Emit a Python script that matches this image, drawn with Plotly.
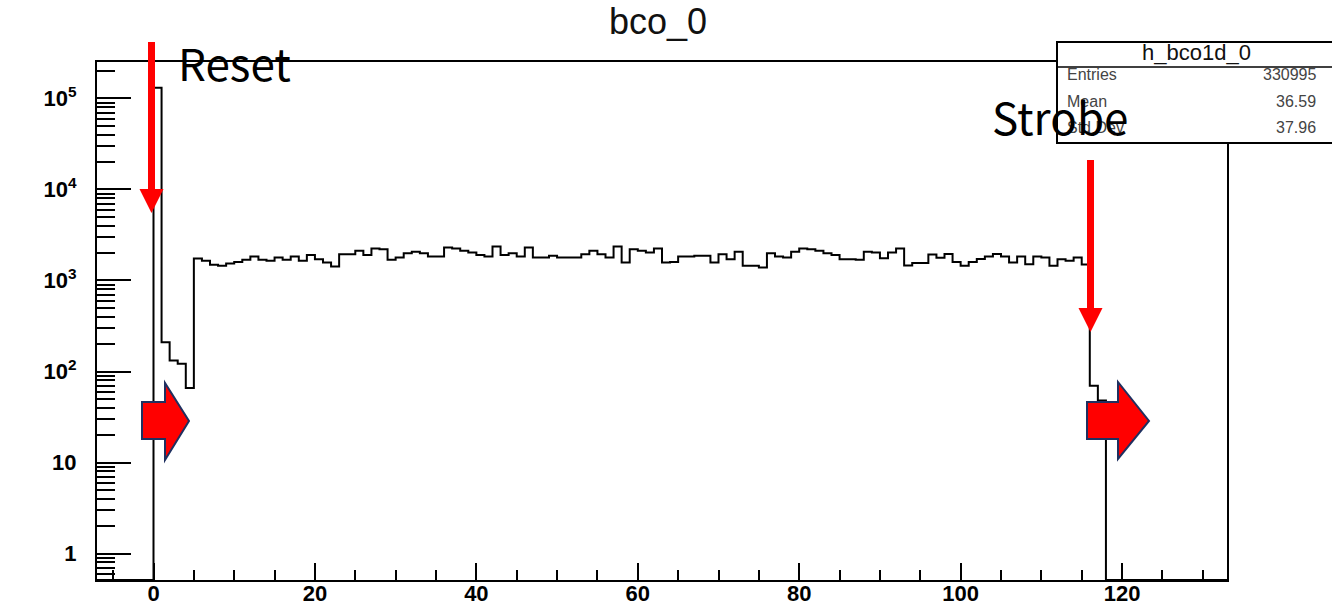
import plotly.graph_objects as go

# ---------------- data ----------------
hist_xmin = -7
hist_xmax = 133
first_filled_bin = 0
# bin contents for bins [0,1), [1,2), ... [117,118)
counts = [
    131000, 210, 132, 122, 66,
    1745, 1644, 1486, 1449, 1540, 1600, 1685, 1835, 1685, 1644,
    1789, 1685, 1835, 1644, 1900, 1715, 1577, 1425, 1947, 1947,
    2118, 1900, 2250, 2210, 1685, 1789, 1995, 2065, 1995, 1835,
    1835, 2305, 2250, 2118, 2031, 1900, 1835, 2360, 1900, 1995,
    1835, 2305, 1789, 1789, 1866, 1789, 1789, 1789, 1947, 2118,
    1947, 1789, 2360, 1577, 2210, 2118, 2031, 2250, 1577, 1600,
    1835, 1835, 1866, 1866, 1577, 1947, 1715, 2065, 1449, 1449,
    1390, 1995, 1835, 1789, 2065, 2250, 2210, 2118, 1995, 1900,
    1715, 1715, 1685, 2065, 2031, 1750, 2031, 2250, 1462, 1560,
    1560, 1930, 1780, 1950, 1600, 1455, 1600, 1720, 1830, 1955,
    1835, 1577, 1835, 1512, 1835, 1789, 1449, 1715, 1644, 1789,
    1500, 70, 48,
]
x_tick_vals = [0, 20, 40, 60, 80, 100, 120]
x_tick_text = ["0", "20", "40", "60", "80", "100", "120"]
y_tick_vals = [1, 10, 100, 1000, 10000, 100000]
y_tick_text = ["1", "10", "10<sup>2</sup>", "10<sup>3</sup>", "10<sup>4</sup>", "10<sup>5</sup>"]
y_log_range = [-0.29, 5.4]

title_text = "bco_0"
stat_name = "h_bco1d_0"
stat_labels = ["Entries", "Mean", "Std Dev"]
stat_values = ["330995", "36.59", "37.96"]
note_reset = "Reset"
note_strobe = "Strobe"

# ---------------- build step outline ----------------
floor_val = 10 ** y_log_range[0]
n_bins = hist_xmax - hist_xmin
contents = [0] * n_bins
for i, c in enumerate(counts):
    contents[first_filled_bin - hist_xmin + i] = c
edges = [hist_xmin + i for i in range(n_bins + 1)]
ys = [c if c > 0 else floor_val for c in contents]
ys = ys + [ys[-1]]

W, H = 1332, 610
ML, MR, MT, MB = 97, 105, 62, 30
PW, PH = W - ML - MR, H - MT - MB


def px(xp):
    return (xp - ML) / PW


def py(yp):
    return (H - MB - yp) / PH


fig = go.Figure()
fig.add_trace(go.Scatter(
    x=edges, y=ys, mode="lines", line=dict(color="black", width=2, shape="hv"),
    hoverinfo="skip", showlegend=False,
))

minor_y = []
for k in range(-1, 6):
    for m in range(2, 10):
        v = m * 10 ** k
        if floor_val < v < 10 ** y_log_range[1]:
            minor_y.append(v)

fig.update_layout(
    width=W, height=H,
    margin=dict(l=ML, r=MR, t=MT, b=MB, pad=0, autoexpand=False),
    paper_bgcolor="white", plot_bgcolor="white",
    showlegend=False,
    xaxis=dict(
        range=[hist_xmin, hist_xmax], showgrid=False, zeroline=False,
        automargin=False,
        showline=True, linecolor="black", linewidth=2, mirror=True,
        ticks="inside", ticklen=17, tickwidth=2, tickcolor="black",
        tickmode="array", tickvals=x_tick_vals, ticktext=x_tick_text,
        tickfont=dict(family="Liberation Sans", size=22, color="black", weight="bold"),
        ticklabelstandoff=-7,
        minor=dict(ticks="inside", ticklen=10, tickwidth=2, tickcolor="black",
                   dtick=5, tick0=0, showgrid=False),
    ),
    yaxis=dict(
        type="log", range=y_log_range, showgrid=False, zeroline=False,
        automargin=False,
        showline=True, linecolor="black", linewidth=2, mirror=True,
        ticks="inside", ticklen=34, tickwidth=2, tickcolor="black",
        tickmode="array", tickvals=y_tick_vals, ticktext=y_tick_text,
        tickfont=dict(family="Liberation Sans", size=22, color="black", weight="bold"),
        ticklabelstandoff=14,
        minor=dict(ticks="inside", ticklen=18, tickwidth=2, tickcolor="black",
                   tickmode="array", tickvals=minor_y, showgrid=False),
    ),
)

shapes = []
# stats box
shapes.append(dict(type="rect", xref="paper", yref="paper",
                   x0=px(1057), x1=px(1345), y0=py(143), y1=py(42),
                   line=dict(color="black", width=2), fillcolor="white", layer="above"))
shapes.append(dict(type="line", xref="paper", yref="paper",
                   x0=px(1057), x1=px(1345), y0=py(67), y1=py(67),
                   line=dict(color="black", width=1.5), layer="above"))


def down_arrow(xc, ytop, yhead, ytip, shaft_w, head_w):
    p = (f"M {px(xc - shaft_w / 2)},{py(ytop)} L {px(xc + shaft_w / 2)},{py(ytop)} "
         f"L {px(xc + shaft_w / 2)},{py(yhead)} L {px(xc + head_w / 2)},{py(yhead)} "
         f"L {px(xc)},{py(ytip)} L {px(xc - head_w / 2)},{py(yhead)} "
         f"L {px(xc - shaft_w / 2)},{py(yhead)} Z")
    return dict(type="path", xref="paper", yref="paper", path=p,
                fillcolor="#ff0000", line=dict(width=0), layer="above")


def block_arrow(x0, xh, xt, yb0, yb1, yh0, yh1, yt):
    p = (f"M {px(x0)},{py(yb0)} L {px(xh)},{py(yb0)} L {px(xh)},{py(yh0)} "
         f"L {px(xt)},{py(yt)} L {px(xh)},{py(yh1)} L {px(xh)},{py(yb1)} "
         f"L {px(x0)},{py(yb1)} Z")
    return dict(type="path", xref="paper", yref="paper", path=p,
                fillcolor="#ff0000", line=dict(color="#1f3060", width=2), layer="above")


shapes.append(down_arrow(151.5, 42, 189, 213, 7, 24))
shapes.append(down_arrow(1090.5, 160, 308, 332, 7, 24))
shapes.append(block_arrow(142, 165, 189, 402, 439, 383, 460, 421))
shapes.append(block_arrow(1087, 1118, 1149, 402, 439, 382, 459, 421))
fig.update_layout(shapes=shapes)

ann = []
ann.append(dict(text=title_text, xref="paper", yref="paper", x=px(658), y=py(22),
                xanchor="center", yanchor="middle", showarrow=False,
                font=dict(family="Liberation Sans", size=36, color="#111")))
ann.append(dict(text=stat_name, xref="paper", yref="paper", x=px(1196), y=py(53),
                xanchor="center", yanchor="middle", showarrow=False,
                font=dict(family="Liberation Sans", size=22, color="#111")))
for lab, val, yy in zip(stat_labels, stat_values, [75, 102, 128]):
    ann.append(dict(text=lab, xref="paper", yref="paper", x=px(1065), y=py(yy),
                    xanchor="left", yanchor="middle", showarrow=False,
                    font=dict(family="Liberation Sans", size=16, color="#444")))
    ann.append(dict(text=val, xref="paper", yref="paper", x=px(1318), y=py(yy),
                    xanchor="right", yanchor="middle", showarrow=False,
                    font=dict(family="Liberation Sans", size=16, color="#444")))
ann.append(dict(text=note_reset, xref="paper", yref="paper", x=px(176), y=py(62),
                xanchor="left", yanchor="middle", showarrow=False,
                font=dict(family="Noto Sans CJK JP", size=44, color="black")))
ann.append(dict(text=note_strobe, xref="paper", yref="paper", x=px(990), y=py(116),
                xanchor="left", yanchor="middle", showarrow=False,
                font=dict(family="Noto Sans CJK JP", size=44, color="black")))
fig.update_layout(annotations=ann)

fig.write_html("out.html")
